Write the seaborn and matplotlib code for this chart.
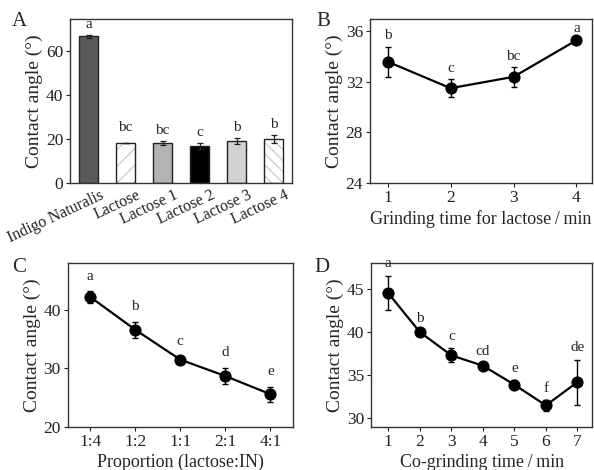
import numpy as np
import seaborn as sns
import matplotlib.pyplot as plt
from matplotlib.transforms import ScaledTranslation

sns.set_theme(style="ticks")
plt.rcParams['font.family'] = ['Liberation Serif', 'DejaVu Serif']
plt.rcParams['hatch.linewidth'] = 0.8

# panel A
samplesA = ["Indigo Naturalis", "Lactose", "Lactose 1", "Lactose 2", "Lactose 3", "Lactose 4"]
angleA = [66.5, 18.0, 18.0, 16.7, 19.0, 19.8]
errA = [0.7, 0.0, 1.0, 1.3, 1.2, 1.8]
lettersA = ["a", "bc", "bc", "c", "b", "b"]

# panel B
timeB = [1, 2, 3, 4]
angleB = [33.6, 31.5, 32.4, 35.3]
errB = [1.2, 0.7, 0.8, 0.1]
lettersB = ["b", "c", "bc", "a"]

# panel C
ratioC = ["1:4", "1:2", "1:1", "2:1", "4:1"]
angleC = [42.2, 36.6, 31.5, 28.7, 25.6]
errC = [1.0, 1.4, 0.5, 1.4, 1.3]
lettersC = ["a", "b", "c", "d", "e"]

# panel D
timeD = [1, 2, 3, 4, 5, 6, 7]
angleD = [44.5, 40.0, 37.3, 36.1, 33.9, 31.5, 34.2]
errD = [2.0, 0.2, 0.8, 0.2, 0.5, 0.6, 2.6]
lettersD = ["a", "b", "c", "cd", "e", "f", "de"]

fig = plt.figure(figsize=(5.94, 4.70), dpi=100)
axA = fig.add_axes([0.118, 0.611, 0.374, 0.349])
axB = fig.add_axes([0.623, 0.611, 0.374, 0.349])
axC = fig.add_axes([0.114, 0.0915, 0.379, 0.349])
axD = fig.add_axes([0.625, 0.0915, 0.372, 0.349])

ylab = "Contact angle (°)"


def style_ax(ax):
    for s in ax.spines.values():
        s.set_color("#333333")
        s.set_linewidth(1.0)
    ax.tick_params(axis="both", labelsize=12.5, direction="out", length=3,
                   width=0.8, colors="#222222", pad=2)
    ax.set_ylabel(ylab, fontsize=14, labelpad=2)


def put_letters(ax, xs, ys, errs, letters, off=3):
    for x, y, e, t in zip(xs, ys, errs, letters):
        ax.annotate(t, (x, y + e), xytext=(0, off), textcoords="offset points",
                    ha="center", va="bottom", fontsize=11)


# ---- A
faces = ["#5a5a5a", "white", "#b3b3b3", "black", "#d2d2d2", "white"]
hatches = [None, "//", None, None, None, "\\\\\\"]
sns.barplot(x=samplesA, y=angleA, ax=axA, width=0.52, color="white",
            edgecolor="#222222", linewidth=1.0)
for p, fc, h in zip(axA.patches, faces, hatches):
    p.set_facecolor(fc)
    if h:
        p.set_hatch(h)
        if hasattr(p, "set_hatchcolor"):
            p.set_hatchcolor("#c4c4c4")
        p._hatch_color = (0.77, 0.77, 0.77, 1.0)
xa = np.arange(len(samplesA))
axA.errorbar(xa, angleA, yerr=errA, fmt="none", ecolor="#222222",
             elinewidth=0.9, capsize=2.5, capthick=0.9)
put_letters(axA, xa, angleA, [2.5 if e == 0 else e for e in errA], lettersA, off=3)
axA.set_xlim(-0.5, 5.5)
axA.set_ylim(0, 74.5)
axA.set_yticks([0, 20, 40, 60])
style_ax(axA)
axA.tick_params(axis="x", length=0, pad=3)
shift = ScaledTranslation(11 / 100, 0, fig.dpi_scale_trans)
for lab in axA.get_xticklabels():
    lab.set_rotation(25)
    lab.set_ha("right")
    lab.set_rotation_mode("anchor")
    lab.set_fontsize(11.5)
    lab.set_transform(lab.get_transform() + shift)

# ---- B
sns.lineplot(x=timeB, y=angleB, ax=axB, color="black", lw=1.6, marker="o",
             markersize=8, markeredgecolor="black")
axB.errorbar(timeB, angleB, yerr=errB, fmt="none", ecolor="black",
             elinewidth=1.0, capsize=2.5, capthick=1.0)
put_letters(axB, timeB, angleB, errB, lettersB)
axB.set_xlim(0.72, 4.25)
axB.set_ylim(24, 37)
axB.set_xticks(timeB)
axB.set_yticks([24, 28, 32, 36])
style_ax(axB)
axB.set_xlabel("Grinding time for lactose\u2009/\u2009min", fontsize=13, labelpad=3)

# ---- C
xc = np.arange(len(ratioC))
sns.lineplot(x=xc, y=angleC, ax=axC, color="black", lw=1.6, marker="o",
             markersize=8, markeredgecolor="black")
axC.errorbar(xc, angleC, yerr=errC, fmt="none", ecolor="black",
             elinewidth=1.0, capsize=2.5, capthick=1.0)
put_letters(axC, xc, angleC, errC, lettersC, off=6)
axC.set_xlim(-0.5, 4.5)
axC.set_ylim(20, 48)
axC.set_xticks(xc)
axC.set_xticklabels(ratioC)
axC.set_yticks([20, 30, 40])
style_ax(axC)
axC.set_xlabel("Proportion (lactose:IN)", fontsize=13, labelpad=3)

# ---- D
sns.lineplot(x=timeD, y=angleD, ax=axD, color="black", lw=1.6, marker="o",
             markersize=8, markeredgecolor="black")
axD.errorbar(timeD, angleD, yerr=errD, fmt="none", ecolor="black",
             elinewidth=1.0, capsize=2.5, capthick=1.0)
put_letters(axD, timeD, angleD, errD, lettersD, off=4)
axD.set_xlim(0.46, 7.47)
axD.set_ylim(29, 48)
axD.set_xticks(timeD)
axD.set_yticks([30, 35, 40, 45])
style_ax(axD)
axD.set_xlabel("Co-grinding time\u2009/\u2009min", fontsize=13, labelpad=3)

for t, (x, y) in zip("ABCD", [(0.02, 0.975), (0.533, 0.975), (0.02, 0.45), (0.53, 0.45)]):
    fig.text(x, y, t, fontsize=15, ha="left", va="top")

fig.savefig("out.png", dpi=100)
